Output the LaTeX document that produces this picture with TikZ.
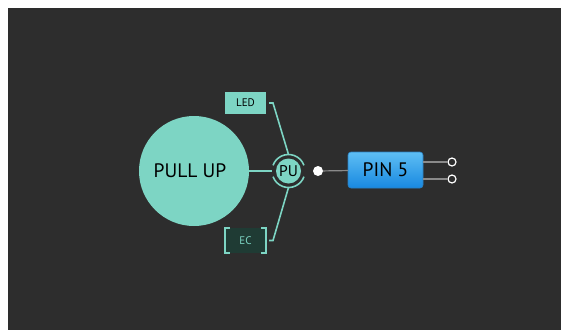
\documentclass[tikz,border=0pt]{standalone}
\usepackage{fontspec}
\setmainfont{PT Sans}
\definecolor{bgdark}{HTML}{2D2D2D}
\definecolor{teal}{HTML}{7DD5C4}
\definecolor{ecfill}{HTML}{1F3B34}
\definecolor{wire}{HTML}{8A8A8A}
\definecolor{pintop}{HTML}{5EBEF4}
\definecolor{pinbot}{HTML}{1888E0}
\definecolor{pinedge}{HTML}{2A7FC0}
\begin{document}
\begin{tikzpicture}[x=1pt,y=-1pt,every node/.style={inner sep=0pt, outer sep=0pt},
  link/.style={draw=teal, line width=1.6pt},
  port/.style={circle, draw=white, fill=bgdark, line width=1.2pt, minimum size=8pt}]

\useasboundingbox (0,0) rectangle (561,330);
\fill[bgdark] (8,8) rectangle (561,330);

\node[circle, fill=teal, minimum size=110pt] (pullup) at (194,171) {};
\node[font=\fontsize{19.5}{20}\selectfont] (pulluptext) at (190,171) {PULL UP};
\node[circle, fill=teal, minimum size=25pt, outer sep=4pt, font=\fontsize{15.5}{16}\selectfont] (pu) at (288.5,171) {PU};
\draw[teal, line width=1.6pt] (pu.center) ++(20:16.5) arc (20:160:16.5);
\draw[teal, line width=1.6pt] (pu.center) ++(200:16.5) arc (200:340:16.5);

\node[fill=teal, minimum width=41pt, minimum height=22pt, font=\fontsize{11}{12}\selectfont] (led) at (245.5,103) {LED};
\node[fill=ecfill, text=teal, minimum width=41pt, minimum height=25pt, font=\fontsize{11}{12}\selectfont] (ec) at (245.5,240.5) {EC};
\draw[teal, line width=1.6pt] ([xshift=5pt]ec.north west) -| (ec.south west) -- ++(5,0);
\draw[teal, line width=1.6pt] ([xshift=-5pt]ec.north east) -| (ec.south east) -- ++(-5,0);

\node[circle, fill=white, minimum size=10pt] (dot) at (318,171) {};
\node[draw=pinedge, line width=0.6pt, rounded corners=3pt, top color=pintop, bottom color=pinbot, minimum width=75pt, minimum height=36pt, font=\fontsize{19.5}{20}\selectfont] (pin) at (385.5,170) {PIN 5};
\node[port] (outa) at (452,162) {};
\node[port] (outb) at (452,179) {};

\draw[link] (pullup) -- (pu);
\draw[link] ([xshift=3pt]led.east) -- ++(4,0) -- (pu.north);
\draw[link] ([xshift=3pt]ec.east) -- ++(4,0) -- (pu.south);
\draw[wire, line width=1.2pt] (dot) -- (pin);
\draw[wire, line width=1.2pt] (pin.east |- outa) -- (outa);
\draw[wire, line width=1.2pt] (pin.east |- outb) -- (outb);
\end{tikzpicture}
\end{document}
